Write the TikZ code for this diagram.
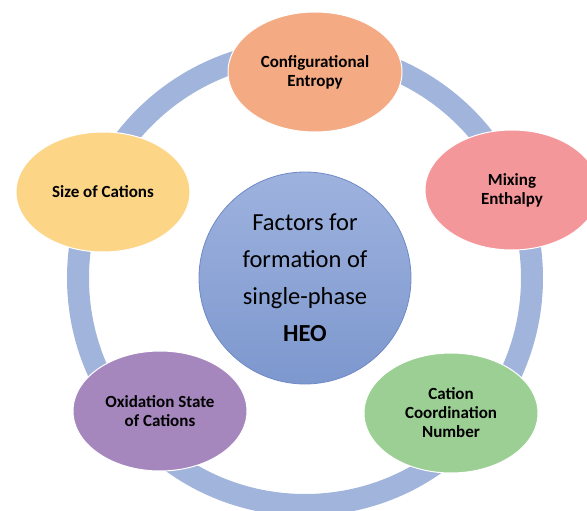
\documentclass[tikz,border=0pt]{standalone}
\usepackage{fontspec}
\setmainfont{Carlito}
\usetikzlibrary{shapes.geometric}
\definecolor{ringblue}{RGB}{161,180,220}
\definecolor{entropyorange}{RGB}{244,170,130}
\definecolor{enthalpypink}{RGB}{244,151,155}
\definecolor{coordgreen}{RGB}{155,207,148}
\definecolor{oxidpurple}{RGB}{165,135,190}
\definecolor{sizeyellow}{RGB}{253,213,135}
\definecolor{hubtop}{RGB}{158,178,222}
\definecolor{hubbottom}{RGB}{125,152,206}
\definecolor{hubedge}{RGB}{112,138,200}
\tikzset{factor/.style={ellipse, draw=white, line width=1pt, minimum width=174pt, minimum height=120pt, inner sep=0pt, align=center, font=\bfseries\fontsize{17}{19}\selectfont}}

\begin{document}
\begin{tikzpicture}[x=1pt,y=-1pt]
\useasboundingbox (0,0) rectangle (587,511);
\coordinate (O) at (305,278);
\draw[ringblue, line width=22pt] (O) circle (227pt);
\node[factor, fill=entropyorange] (entropy) at (315,72) {Configurational\\Entropy};
\node[factor, fill=enthalpypink] (enthalpy) at (512,190) {Mixing\\Enthalpy};
\node[factor, fill=coordgreen] (coord) at (451,413) {Cation\\Coordination\\Number};
\node[factor, fill=oxidpurple] (oxid) at (160,411) {Oxidation State\\of Cations};
\node[factor, fill=sizeyellow] (size) at (103,192) {Size of Cations};
\node[circle, minimum size=212pt, inner sep=0pt, top color=hubtop, bottom color=hubbottom, draw=hubedge, line width=0.8pt, align=center, font=\fontsize{24.5}{37}\selectfont] (hub) at (O) {Factors for\\formation of\\single-phase\\\textbf{HEO}};
\end{tikzpicture}
\end{document}
